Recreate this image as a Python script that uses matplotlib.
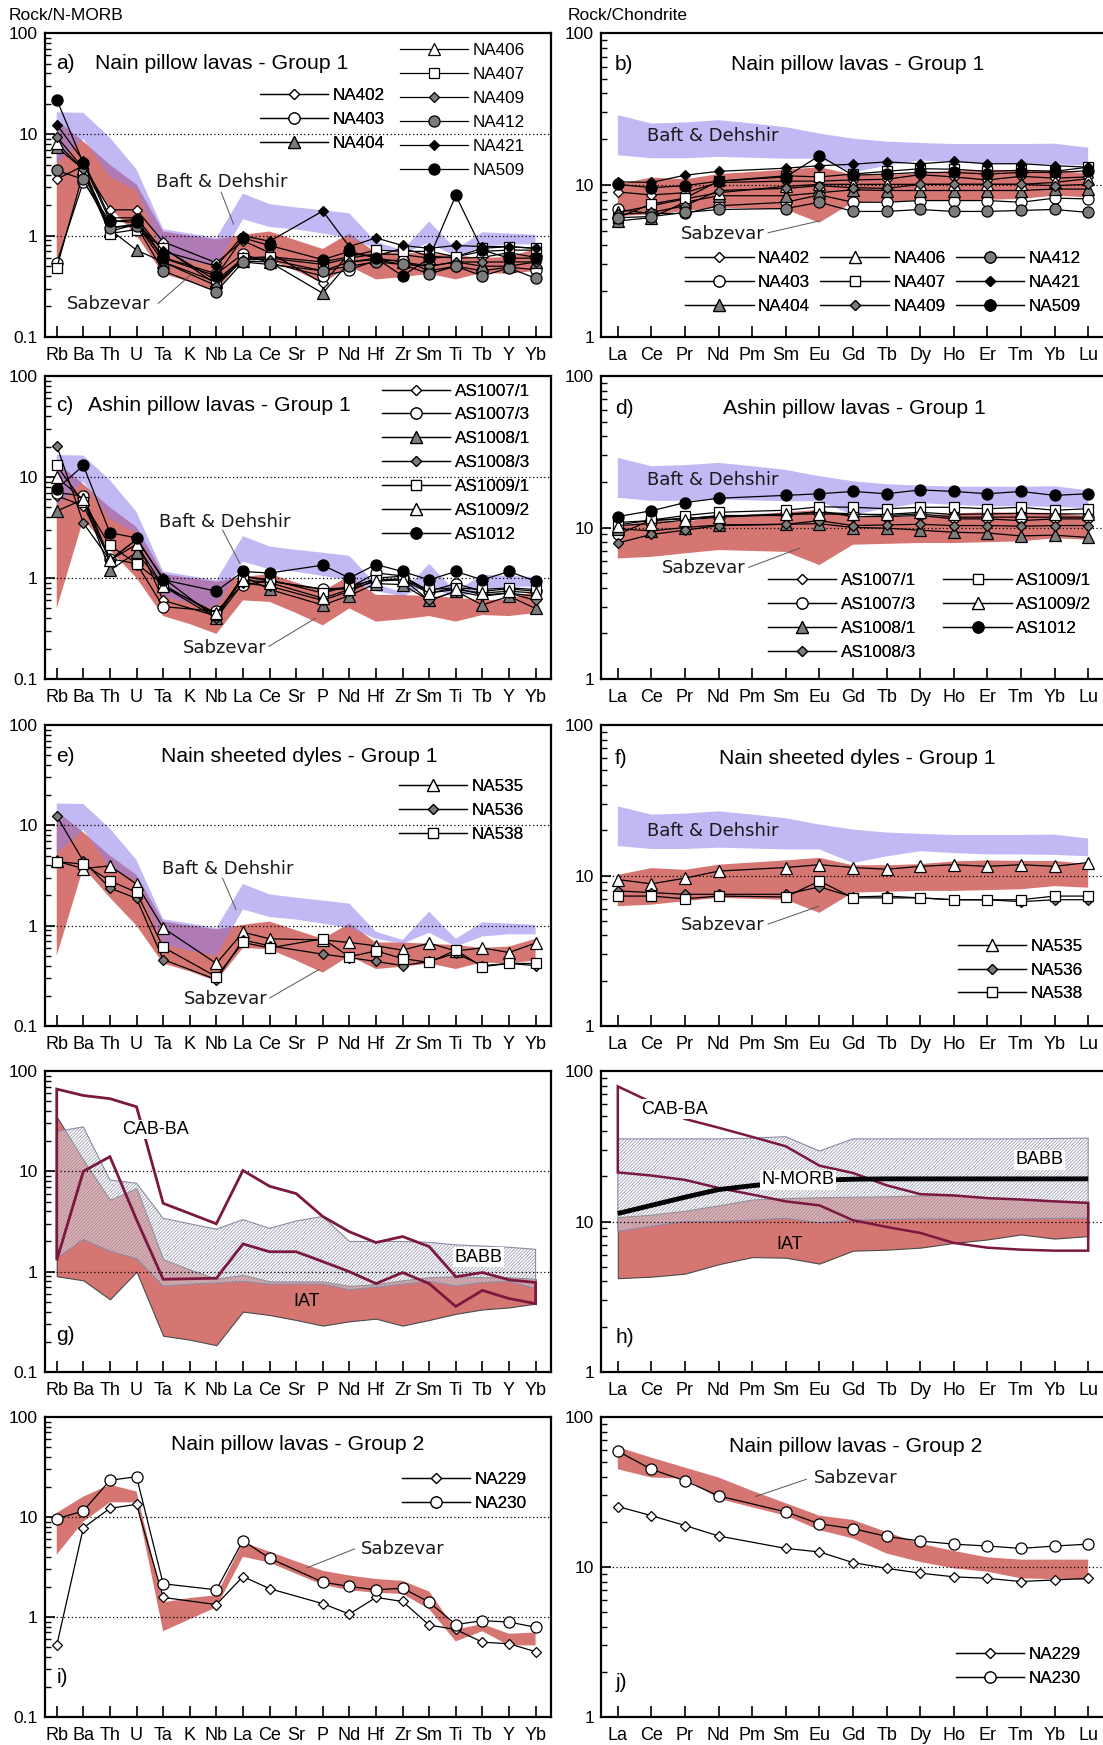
import numpy as np
import matplotlib.pyplot as plt
from matplotlib.ticker import LogLocator, NullFormatter

plt.rcParams['font.family'] = ['Liberation Sans', 'DejaVu Sans']
plt.rcParams['hatch.linewidth'] = 0.5
plt.rcParams['hatch.color'] = '#8c8ca6'

spider = ['Rb', 'Ba', 'Th', 'U', 'Ta', 'K', 'Nb', 'La', 'Ce', 'Sr', 'P', 'Nd',
          'Hf', 'Zr', 'Sm', 'Ti', 'Tb', 'Y', 'Yb']
ree = ['La', 'Ce', 'Pr', 'Nd', 'Pm', 'Sm', 'Eu', 'Gd', 'Tb', 'Dy', 'Ho', 'Er',
       'Tm', 'Yb', 'Lu']

# reference fields (Group 1)
baft_spider_hi = [16.5, 16.3, 9.3, 4.5, 1.16, 1.05, 0.95, 2.6, 2.05, 1.9, 1.78, 1.66, 0.87, 0.72, 1.38, 0.74, 1.08, 1.05, 1.02]
baft_spider_lo = [5.2, 9.0, 3.8, 2.8, 0.66, 0.56, 0.5, 1.45, 1.22, 1.15, 1.05, 0.95, 0.74, 0.66, 0.85, 0.62, 0.78, 0.82, 0.82]
sabz_spider_hi = [13.9, 8.5, 5.0, 3.2, 1.1, 1.0, 0.92, 1.02, 1.1, 0.9, 0.74, 1.05, 0.68, 0.68, 0.66, 0.64, 0.6, 0.62, 0.74]
sabz_spider_lo = [0.5, 3.8, 1.9, 1.0, 0.42, 0.35, 0.28, 0.6, 0.58, 0.45, 0.34, 0.5, 0.37, 0.39, 0.42, 0.37, 0.43, 0.42, 0.45]
baft_ree_hi = [28.8, 25.4, 25.8, 26.7, 25.4, 24, 21.8, 20.2, 19.3, 18.9, 18.6, 18.6, 18.6, 18.7, 17.6]
baft_ree_lo = [15.7, 15.0, 15.0, 15.3, 15.1, 14.9, 14.9, 12.1, 13.4, 14.5, 14.1, 13.8, 13.8, 13.7, 13.4]
sabz_ree_hi = [10.1, 11.2, 10.9, 11.8, 12.2, 12.6, 13.1, 11.7, 11.7, 11.9, 12.4, 12.6, 12.5, 12.5, 11.9]
sabz_ree_lo = [6.25, 6.4, 6.75, 7.1, 7.0, 6.9, 5.65, 7.7, 7.8, 7.9, 7.9, 8.0, 8.1, 8.5, 8.3]

# a) Nain pillow lavas - Group 1
na402_a = [3.6, 4.9, 1.8, 1.8, 0.87, None, 0.54, 0.89, 0.68, None, 0.34, 0.66, 0.63, 0.75, 0.63, 0.6, 0.61, 0.68, 0.61]
na403_a = [0.54, 3.4, 1.38, 1.44, 0.61, None, 0.42, 0.66, 0.54, None, 0.40, 0.46, 0.57, 0.57, 0.45, 0.5, 0.45, 0.49, 0.46]
na404_a = [7.5, 4.5, 1.15, 0.72, 0.55, None, 0.35, 0.56, 0.55, None, 0.27, 0.55, 0.6, 0.55, 0.5, 0.55, 0.5, 0.5, 0.55]
na406_a = [8.2, 4.5, 1.1, 1.3, 0.75, None, 0.36, 0.6, 0.6, None, 0.52, 0.6, 0.66, 0.65, 0.6, 0.62, 0.7, 0.72, 0.72]
na407_a = [0.48, 4.2, 1.05, 1.15, 0.76, None, 0.33, 0.6, 0.62, None, 0.55, 0.62, 0.72, 0.7, 0.7, 0.62, 0.75, 0.78, 0.75]
na409_a = [9.5, 4.6, 1.2, 1.3, 0.55, None, 0.32, 0.58, 0.58, None, 0.45, 0.55, 0.58, 0.52, 0.5, 0.55, 0.55, 0.55, 0.55]
na412_a = [4.4, 3.6, 1.2, 1.25, 0.45, None, 0.28, 0.55, 0.52, None, 0.45, 0.5, 0.55, 0.52, 0.42, 0.5, 0.4, 0.48, 0.38]
na421_a = [12.5, 5.5, 1.5, 1.5, 0.7, None, 0.5, 1.0, 0.88, None, 1.75, 0.78, 0.95, 0.8, 0.75, 0.8, 0.78, 0.78, 0.75]
na509_a = [22, 5.2, 1.4, 1.35, 0.6, None, 0.4, 0.95, 0.8, None, 0.58, 0.7, 0.6, 0.4, 0.6, 2.5, 0.72, 0.6, 0.6]

# b)
na402_b = [9.0, 8.6, 8.9, 10.4, None, 10.6, 10.6, 10.8, 10.9, 11.7, 11.3, 10.8, 11.4, 11.1, 11.3]
na403_b = [6.9, 6.5, 6.5, 7.3, None, 7.7, 8.6, 7.7, 7.7, 7.9, 7.9, 7.9, 7.7, 8.2, 8.1]
na404_b = [5.8, 6.1, 7.7, 8.5, None, 8.5, 8.9, 9.3, 9.2, 9.2, 9.2, 9.2, 9.2, 9.4, 9.4]
na406_b = [6.6, 7.3, 8.1, 8.9, None, 9.8, 10.1, 10.1, 10.1, 10.1, 10.1, 10.1, 10.1, 10.4, 11.0]
na407_b = [6.1, 7.5, 8.2, 10.6, None, 11.5, 11.3, 11.8, 12.3, 12.8, 12.7, 12.3, 12.5, 12.3, 13.1]
na409_b = [6.4, 6.6, 7.3, 9.2, None, 9.5, 9.9, 9.6, 9.5, 10.1, 10.1, 10.1, 10.1, 9.9, 10.1]
na412_b = [6.1, 6.2, 6.6, 6.9, None, 7.0, 7.7, 6.7, 6.7, 6.9, 6.7, 6.7, 6.8, 6.9, 6.6]
na421_b = [10.5, 10.4, 11.6, 12.3, None, 12.9, 13.4, 13.7, 14.2, 13.8, 14.3, 13.8, 13.8, 13.4, 13.1]
na509_b = [10.1, 9.6, 9.9, 10.6, None, 11.3, 15.6, 11.6, 11.8, 12.1, 12.1, 11.8, 12.1, 12.1, 12.4]

# c) Ashin pillow lavas - Group 1
as1007_1_c = [6.5, 5.2, 1.52, 2.4, 0.6, None, 0.42, 1.04, 0.93, None, 0.77, 0.78, 1.0, 1.04, 0.71, 0.8, 0.68, 0.71, 0.66]
as1007_3_c = [7.0, 6.5, 1.55, 1.39, 0.52, None, 0.47, 0.86, 0.93, None, 0.78, 0.8, 1.12, 1.05, 0.74, 0.88, 0.74, 0.78, 0.74]
as1008_1_c = [4.6, 6.0, 1.19, 1.8, 0.83, None, 0.40, 1.04, 0.77, None, 0.54, 0.67, 0.88, 0.86, 0.6, 0.74, 0.54, 0.66, 0.5]
as1008_3_c = [20.5, 3.5, 1.5, 2.4, 1.0, None, 0.4, 0.89, 0.83, None, 0.6, 0.74, 0.96, 0.98, 0.6, 0.74, 0.66, 0.71, 0.6]
as1009_1_c = [13, 5.6, 2.1, 1.39, 0.86, None, 0.43, 1.04, 0.96, None, 0.71, 0.83, 0.96, 0.96, 0.77, 0.8, 0.77, 0.8, 0.77]
as1009_2_c = [9.9, 6.0, 1.5, 2.15, 0.83, None, 0.45, 0.96, 0.9, None, 0.63, 0.77, 0.93, 0.96, 0.71, 0.77, 0.71, 0.74, 0.71]
as1012_c = [7.6, 13, 2.8, 2.5, 0.96, None, 0.74, 1.16, 1.12, None, 1.34, 1.0, 1.36, 1.16, 0.96, 1.16, 0.96, 1.16, 0.93]

# d)
as1007_1_d = [10.8, 11.1, 11.4, 12.0, None, 12.0, 12.8, 11.8, 11.8, 12.0, 11.4, 11.4, 11.1, 11.4, 11.4]
as1007_3_d = [9.0, 11.2, 11.5, 11.8, None, 12.3, 12.6, 12.3, 12.0, 12.3, 11.7, 11.7, 11.7, 11.7, 11.7]
as1008_1_d = [9.8, 9.5, 10.0, 10.4, None, 10.5, 10.6, 10.0, 9.9, 9.6, 9.3, 9.2, 8.8, 8.9, 8.6]
as1008_3_d = [7.9, 9.0, 9.6, 10.3, None, 10.5, 11.1, 10.3, 10.4, 10.5, 10.3, 10.3, 10.2, 10.3, 10.3]
as1009_1_d = [10.4, 11.2, 12.0, 12.6, None, 13.0, 13.7, 13.6, 13.3, 13.6, 13.6, 13.3, 13.6, 13.0, 13.3]
as1009_2_d = [10.3, 10.6, 11.2, 11.7, None, 12.2, 12.3, 12.2, 12.2, 12.6, 12.2, 12.3, 12.4, 12.3, 12.3]
as1012_d = [11.8, 12.9, 14.6, 15.6, None, 16.3, 16.7, 17.3, 16.7, 17.7, 17.3, 16.7, 17.3, 16.3, 16.7]

# e) / f) Nain sheeted dykes
na535_e = [4.4, 3.7, 3.95, 2.6, 0.95, None, 0.42, 0.86, 0.74, None, 0.72, 0.68, 0.63, 0.57, 0.67, 0.56, 0.6, 0.54, 0.67]
na536_e = [12.4, 4.4, 2.37, 1.87, 0.46, None, 0.29, 0.72, 0.63, None, 0.52, 0.48, 0.44, 0.40, 0.44, 0.53, 0.40, 0.42, 0.40]
na538_e = [4.35, 4.1, 2.8, 2.15, 0.61, None, 0.31, 0.68, 0.60, None, 0.74, 0.49, 0.56, 0.47, 0.43, 0.57, 0.39, 0.42, 0.42]
na535_f = [9.4, 8.8, 9.6, 10.7, None, 11.3, 11.8, 11.3, 11.0, 11.5, 11.8, 11.5, 11.8, 11.5, 12.2]
na536_f = [7.9, 7.7, 7.5, 7.5, None, 7.5, 8.4, 7.2, 7.3, 7.1, 6.9, 6.9, 6.7, 6.9, 6.9]
na538_f = [7.3, 7.3, 7.0, 7.3, None, 7.2, 9.2, 7.1, 7.1, 7.1, 6.9, 6.9, 6.9, 7.3, 7.3]

# g) / h) tectonic reference fields
cab_spider_hi = [66, 57, 53, 44, 4.8, 3.8, 3.0, 10.2, 7.1, 6.0, 3.55, 2.5, 1.95, 2.24, 1.78, 0.89, 0.98, 0.83, 0.78]
cab_spider_lo = [1.3, 10, 14, 3.3, 0.84, 0.85, 0.86, 1.89, 1.58, 1.58, 1.26, 1.0, 0.76, 0.98, 0.76, 0.45, 0.65, 0.54, 0.48]
babb_spider_hi = [25, 27.7, 8.2, 7.6, 3.4, 3.0, 2.65, 3.3, 2.7, 3.2, 3.55, 2.0, 2.0, 2.0, 1.96, 1.85, 1.8, 1.75, 1.67]
babb_spider_lo = [1.36, 2.1, 1.6, 1.35, 0.72, 0.75, 0.77, 0.8, 0.75, 0.75, 0.75, 0.66, 0.7, 0.75, 0.8, 0.72, 0.78, 0.8, 0.68]
iat_spider_hi = [35, 13, 5.2, 6.8, 1.33, 1.05, 0.85, 0.93, 0.8, 0.8, 0.8, 0.72, 0.75, 0.82, 0.88, 0.9, 0.88, 0.88, 0.85]
iat_spider_lo = [0.9, 0.82, 0.53, 1.0, 0.23, 0.21, 0.185, 0.4, 0.37, 0.33, 0.29, 0.32, 0.34, 0.29, 0.33, 0.38, 0.42, 0.44, 0.48]
cab_ree_hi = [79, 62, 48, 42, 36.5, 31.6, 23.5, 21, 17.4, 15.2, 14.9, 14.3, 14.0, 13.6, 13.3]
cab_ree_lo = [21.2, 20.2, 18.9, 16.7, 15.1, 13.6, 12.8, 10.2, 9.2, 8.4, 7.2, 6.7, 6.5, 6.4, 6.4]
babb_ree_hi = [35.4, 35.4, 35.4, 35.4, 35.8, 36.6, 29.4, 35.4, 35.4, 35.4, 35.4, 35.4, 35.4, 35.6, 35.8]
babb_ree_lo = [8.6, 9.3, 10.0, 10.0, 10.2, 10.5, 9.8, 10.2, 10.3, 10.4, 10.4, 10.4, 10.4, 10.5, 10.5]
iat_ree_hi = [10.7, 11.1, 11.8, 12.8, 14.0, 14.3, 14.5, 14.6, 14.7, 14.9, 14.9, 14.3, 14.1, 13.8, 13.3]
iat_ree_lo = [4.2, 4.3, 4.5, 5.2, 5.8, 5.75, 5.25, 6.4, 6.5, 6.7, 7.2, 7.6, 8.2, 7.7, 8.0]
nmorb_ree = [11.3, 12.8, 14.5, 16.3, 17.3, 18.2, 18.8, 19.1, 19.2, 19.2, 19.2, 19.2, 19.2, 19.2, 19.2]

# i) / j) Nain pillow lavas - Group 2
sab2_spider_hi = [11, 16, 21, 18, 1.4, 1.55, 1.65, 5.6, 4.5, 3.6, 2.9, 2.6, 2.4, 2.3, 1.8, 0.75, 0.85, 0.68, 0.7]
sab2_spider_lo = [4.2, 9.0, 14, 14, 0.72, 0.95, 1.25, 4.0, 3.5, 2.7, 2.1, 1.85, 1.75, 1.7, 1.2, 0.57, 0.72, 0.52, 0.52]
na229_i = [0.52, 7.8, 12.2, 13.4, 1.57, None, 1.33, 2.54, 1.92, None, 1.36, 1.07, 1.57, 1.43, 0.83, 0.75, 0.56, 0.54, 0.45]
na230_i = [9.6, 11.5, 23.3, 25.3, 2.15, None, 1.87, 5.8, 3.87, None, 2.23, 2.02, 1.87, 1.94, 1.41, 0.84, 0.92, 0.89, 0.79]
sab2_ree_hi = [63, 53.6, 46, 39.5, 32.2, 26.6, 22, 20.6, 17.1, 14.3, 12.8, 11.6, 11.2, 11.2, 11.2]
sab2_ree_lo = [44.8, 39.5, 38.9, 28.5, 25, 22, 17.6, 15.5, 12.3, 10.8, 9.8, 9.3, 8.4, 8.3, 8.2]
na229_j = [25.3, 22, 18.9, 16.1, None, 13.3, 12.6, 10.7, 9.8, 9.1, 8.6, 8.4, 8.0, 8.2, 8.4]
na230_j = [59.2, 44.8, 37.6, 29.8, None, 23.3, 19.4, 18.0, 16.0, 14.9, 14.2, 13.8, 13.3, 13.8, 14.2]

RED = '#d67672'
LAV = '#9180ec'
CABC = '#7b1840'
GREY = '#7c7c7c'

MARK = {
    'od': dict(marker='D', ms=5.5, mfc='white'),
    'oc': dict(marker='o', ms=8, mfc='white'),
    'gt': dict(marker='^', ms=8.5, mfc=GREY),
    'ot': dict(marker='^', ms=8.5, mfc='white'),
    'os': dict(marker='s', ms=7.5, mfc='white'),
    'gd': dict(marker='D', ms=5.5, mfc=GREY),
    'gc': dict(marker='o', ms=8, mfc=GREY),
    'bd': dict(marker='D', ms=5.5, mfc='black'),
    'bc': dict(marker='o', ms=8, mfc='black'),
}

fig = plt.figure(figsize=(11.03, 17.45), dpi=100)
rows = [(33, 337), (376, 679), (725, 1026), (1071, 1372), (1417, 1717)]


def make_ax(col, row):
    top, bot = rows[row]
    if col == 0:
        x0, w = 44.5 / 1103, 506.5 / 1103
    else:
        x0, w = 601 / 1103, 504 / 1103
    return fig.add_axes([x0, 1 - bot / 1745, w, (bot - top) / 1745])


def setup(ax, kind):
    ax.set_yscale('log')
    if kind == 'spider':
        ax.set_xlim(-0.46, 18.58)
        ax.set_ylim(0.1, 100)
        ax.set_xticks(range(len(spider)))
        ax.set_xticklabels(spider)
        ax.set_yticks([0.1, 1, 10, 100])
        ax.set_yticklabels(['0.1', '1', '10', '100'])
        refs = [1, 10]
    else:
        ax.set_xlim(-0.5, 14.5)
        ax.set_ylim(1, 100)
        ax.set_xticks(range(len(ree)))
        ax.set_xticklabels(ree)
        ax.set_yticks([1, 10, 100])
        ax.set_yticklabels(['1', '10', '100'])
        refs = [10]
    for r in refs:
        ax.axhline(r, color='black', lw=0.9, ls=(0, (1, 2)), zorder=2.5)
    ax.yaxis.set_minor_locator(LogLocator(base=10, subs=np.arange(2, 10)))
    ax.yaxis.set_minor_formatter(NullFormatter())
    ax.tick_params(axis='x', which='both', direction='in', length=8, width=1.2,
                   top=False, labelsize=13, pad=7)
    ax.tick_params(axis='y', which='major', direction='in', length=7, width=1.2,
                   right=False, labelsize=12.5, pad=5)
    ax.tick_params(axis='y', which='minor', direction='in', length=4, width=1.0, right=False)
    for s in ax.spines.values():
        s.set_linewidth(1.6)


def band(ax, lo, hi, color, alpha=1.0, z=1):
    ax.fill_between(range(len(lo)), lo, hi, facecolor=color, edgecolor='none',
                    alpha=alpha, zorder=z, lw=0)


def sample(ax, values, style, label):
    xs = [i for i, v in enumerate(values) if v is not None]
    ys = [v for v in values if v is not None]
    line, = ax.plot(xs, ys, color='black', lw=0.9, mec='black', mew=0.9,
                    label=label, zorder=4, **MARK[style])
    return line


def legend(ax, handles, x, y, ncol=1, colsp=0.6):
    leg = ax.legend(handles=handles, loc='upper left', bbox_to_anchor=(x, y), ncol=ncol,
                    frameon=False, fontsize=12.3, handlelength=4.0, handletextpad=0.27,
                    labelspacing=0.52, borderpad=0, borderaxespad=0,
                    columnspacing=colsp, numpoints=1)
    ax.add_artist(leg)


def field_label(ax, text, xy, p0=None, p1=None, size=13):
    ax.text(xy[0], xy[1], text, fontsize=size, family='DejaVu Sans', va='center',
            ha='left', zorder=6, color='#1a1a1a')
    if p0 is not None:
        ax.annotate('', xy=p1, xytext=p0, zorder=6,
                    arrowprops=dict(arrowstyle='-', color='#555555', lw=0.7,
                                    shrinkA=0, shrinkB=0))


def titles(ax, tag, tag_y, title=None, tx=0.5, ty=0.9, ha='center', tag_x=0.023):
    ax.text(tag_x, tag_y, tag, transform=ax.transAxes, fontsize=15, va='center', ha='left')
    if title:
        ax.text(tx, ty, title, transform=ax.transAxes, fontsize=15.3, va='center', ha=ha)


fig.text(9 / 1103, 1 - 15 / 1745, 'Rock/N-MORB', fontsize=12.5, va='center')
fig.text(568 / 1103, 1 - 15 / 1745, 'Rock/Chondrite', fontsize=12.5, va='center')

# ---- a)
ax = make_ax(0, 0)
setup(ax, 'spider')
band(ax, sabz_spider_lo, sabz_spider_hi, RED)
band(ax, baft_spider_lo, baft_spider_hi, LAV, 0.55, 2)
h = [sample(ax, na402_a, 'od', 'NA402'), sample(ax, na403_a, 'oc', 'NA403'),
     sample(ax, na404_a, 'gt', 'NA404'), sample(ax, na406_a, 'ot', 'NA406'),
     sample(ax, na407_a, 'os', 'NA407'), sample(ax, na409_a, 'gd', 'NA409'),
     sample(ax, na412_a, 'gc', 'NA412'), sample(ax, na421_a, 'bd', 'NA421'),
     sample(ax, na509_a, 'bc', 'NA509')]
legend(ax, h[3:], 0.702, 0.966)
legend(ax, h[:3], 0.425, 0.818)
field_label(ax, 'Baft & Dehshir', (3.72, 3.37), (6.18, 2.69), (6.65, 1.29))
field_label(ax, 'Sabzevar', (0.38, 0.214), (3.81, 0.214), (5.03, 0.41))
titles(ax, 'a)', 0.90, 'Nain pillow lavas - Group 1', tx=0.10, ty=0.90, ha='left')

# ---- b)
ax = make_ax(1, 0)
setup(ax, 'ree')
band(ax, sabz_ree_lo, sabz_ree_hi, RED)
band(ax, baft_ree_lo, baft_ree_hi, LAV, 0.55, 2)
h = [sample(ax, na402_b, 'od', 'NA402'), sample(ax, na403_b, 'oc', 'NA403'),
     sample(ax, na404_b, 'gt', 'NA404'), sample(ax, na406_b, 'ot', 'NA406'),
     sample(ax, na407_b, 'os', 'NA407'), sample(ax, na409_b, 'gd', 'NA409'),
     sample(ax, na412_b, 'gc', 'NA412'), sample(ax, na421_b, 'bd', 'NA421'),
     sample(ax, na509_b, 'bc', 'NA509')]
legend(ax, h, 0.167, 0.282, ncol=3, colsp=0.6)
field_label(ax, 'Baft & Dehshir', (0.86, 21))
field_label(ax, 'Sabzevar', (1.89, 4.78), (4.47, 4.85), (5.99, 5.8))
titles(ax, 'b)', 0.895, 'Nain pillow lavas - Group 1', tx=0.509, ty=0.895, tag_x=0.028)

# ---- c)
ax = make_ax(0, 1)
setup(ax, 'spider')
band(ax, sabz_spider_lo, sabz_spider_hi, RED)
band(ax, baft_spider_lo, baft_spider_hi, LAV, 0.55, 2)
h = [sample(ax, as1007_1_c, 'od', 'AS1007/1'), sample(ax, as1007_3_c, 'oc', 'AS1007/3'),
     sample(ax, as1008_1_c, 'gt', 'AS1008/1'), sample(ax, as1008_3_c, 'gd', 'AS1008/3'),
     sample(ax, as1009_1_c, 'os', 'AS1009/1'), sample(ax, as1009_2_c, 'ot', 'AS1009/2'),
     sample(ax, as1012_c, 'bc', 'AS1012')]
legend(ax, h, 0.666, 0.975)
field_label(ax, 'Baft & Dehshir', (3.85, 3.56), (6.23, 3.0), (6.88, 1.4))
field_label(ax, 'Sabzevar', (4.73, 0.204), (7.97, 0.21), (9.73, 0.4))
titles(ax, 'c)', 0.903, 'Ashin pillow lavas - Group 1', tx=0.086, ty=0.903, ha='left')

# ---- d)
ax = make_ax(1, 1)
setup(ax, 'ree')
band(ax, sabz_ree_lo, sabz_ree_hi, RED)
band(ax, baft_ree_lo, baft_ree_hi, LAV, 0.55, 2)
h = [sample(ax, as1007_1_d, 'od', 'AS1007/1'), sample(ax, as1007_3_d, 'oc', 'AS1007/3'),
     sample(ax, as1008_1_d, 'gt', 'AS1008/1'), sample(ax, as1008_3_d, 'gd', 'AS1008/3'),
     sample(ax, as1009_1_d, 'os', 'AS1009/1'), sample(ax, as1009_2_d, 'ot', 'AS1009/2'),
     sample(ax, as1012_d, 'bc', 'AS1012')]
legend(ax, h, 0.331, 0.350, ncol=2, colsp=1.6)
field_label(ax, 'Baft & Dehshir', (0.86, 20.6))
field_label(ax, 'Sabzevar', (1.3, 5.37), (3.89, 5.45), (5.41, 7.3))
titles(ax, 'd)', 0.893, 'Ashin pillow lavas - Group 1', tx=0.503, ty=0.893, tag_x=0.028)

# ---- e)
ax = make_ax(0, 2)
setup(ax, 'spider')
band(ax, sabz_spider_lo, sabz_spider_hi, RED)
band(ax, baft_spider_lo, baft_spider_hi, LAV, 0.55, 2)
h = [sample(ax, na535_e, 'ot', 'NA535'), sample(ax, na536_e, 'gd', 'NA536'),
     sample(ax, na538_e, 'os', 'NA538')]
legend(ax, h, 0.699, 0.820)
field_label(ax, 'Baft & Dehshir', (3.97, 3.7), (6.23, 2.99), (6.74, 1.45))
field_label(ax, 'Sabzevar', (4.77, 0.184), (8.0, 0.19), (9.86, 0.366))
titles(ax, 'e)', 0.895, 'Nain sheeted dyles - Group 1', tx=0.502, ty=0.895)

# ---- f)
ax = make_ax(1, 2)
setup(ax, 'ree')
band(ax, sabz_ree_lo, sabz_ree_hi, RED)
band(ax, baft_ree_lo, baft_ree_hi, LAV, 0.55, 2)
h = [sample(ax, na535_f, 'ot', 'NA535'), sample(ax, na536_f, 'gd', 'NA536'),
     sample(ax, na538_f, 'os', 'NA538')]
legend(ax, h, 0.708, 0.290)
field_label(ax, 'Baft & Dehshir', (0.86, 19.9))
field_label(ax, 'Sabzevar', (1.89, 4.68), (4.47, 4.75), (5.99, 6.26))
titles(ax, 'f)', 0.889, 'Nain sheeted dyles - Group 1', tx=0.509, ty=0.889, tag_x=0.028)

# ---- g)
ax = make_ax(0, 3)
setup(ax, 'spider')
xs = list(range(len(spider)))
ax.fill_between(xs, iat_spider_lo, iat_spider_hi, facecolor=RED, edgecolor='#4a4a4a',
                lw=0.8, zorder=1)
ax.fill_between(xs, babb_spider_lo, babb_spider_hi, facecolor=(1, 1, 1, 0.42),
                edgecolor='#8c8ca6', hatch='//////////', lw=0.8, zorder=2)
ax.fill(xs + xs[::-1], cab_spider_hi + cab_spider_lo[::-1], facecolor='none',
        edgecolor=CABC, lw=2, zorder=3)
ax.text(2.47, 26.1, 'CAB-BA', fontsize=13, va='center', zorder=6,
        bbox=dict(facecolor='white', edgecolor='none', pad=1))
ax.text(14.95, 1.39, 'BABB', fontsize=13, va='center', zorder=6,
        bbox=dict(facecolor='white', edgecolor='none', pad=1))
ax.text(8.9, 0.5, 'IAT', fontsize=13, va='center', zorder=6)
titles(ax, 'g)', 0.122)

# ---- h)
ax = make_ax(1, 3)
setup(ax, 'ree')
xs = list(range(len(ree)))
ax.fill_between(xs, iat_ree_lo, iat_ree_hi, facecolor=RED, edgecolor='#4a4a4a',
                lw=0.8, zorder=1)
ax.fill_between(xs, babb_ree_lo, babb_ree_hi, facecolor=(1, 1, 1, 0.42),
                edgecolor='#8c8ca6', hatch='//////////', lw=0.8, zorder=2)
ax.fill(xs + xs[::-1], cab_ree_hi + cab_ree_lo[::-1], facecolor='none',
        edgecolor=CABC, lw=1.8, zorder=3)
ax.plot(xs, nmorb_ree, color='black', lw=3.5, zorder=4, solid_capstyle='butt')
ax.text(0.70, 55.8, 'CAB-BA', fontsize=13, va='center', zorder=6,
        bbox=dict(facecolor='white', edgecolor='none', pad=1))
ax.text(11.84, 25.7, 'BABB', fontsize=13, va='center', zorder=6,
        bbox=dict(facecolor='white', edgecolor='none', pad=1))
ax.text(4.29, 18.9, 'N-MORB', fontsize=13, va='center', zorder=6,
        bbox=dict(facecolor='white', edgecolor='none', pad=1))
ax.text(4.71, 7.05, 'IAT', fontsize=13, va='center', zorder=6)
titles(ax, 'h)', 0.116, tag_x=0.028)

# ---- i)
ax = make_ax(0, 4)
setup(ax, 'spider')
band(ax, sab2_spider_lo, sab2_spider_hi, RED)
h = [sample(ax, na229_i, 'od', 'NA229'), sample(ax, na230_i, 'oc', 'NA230')]
legend(ax, h, 0.705, 0.817)
field_label(ax, 'Sabzevar', (11.42, 4.8), (11.2, 4.8), (9.4, 3.1))
titles(ax, 'i)', 0.133, 'Nain pillow lavas - Group 2', tx=0.50, ty=0.908)

# ---- j)
ax = make_ax(1, 4)
setup(ax, 'ree')
band(ax, sab2_ree_lo, sab2_ree_hi, RED)
h = [sample(ax, na229_j, 'od', 'NA229'), sample(ax, na230_j, 'oc', 'NA230')]
legend(ax, h, 0.704, 0.234)
field_label(ax, 'Sabzevar', (5.85, 39.5), (5.62, 38.5), (4.1, 29.5))
titles(ax, 'j)', 0.116, 'Nain pillow lavas - Group 2', tx=0.506, ty=0.90, tag_x=0.028)

fig.savefig('out.png', dpi=100)
